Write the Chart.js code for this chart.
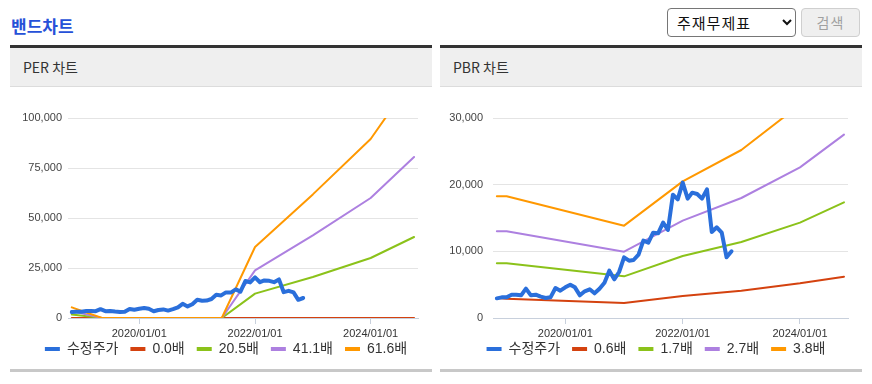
<!DOCTYPE html>
<html>
<head>
<meta charset="utf-8">
<script src="https://cdn.jsdelivr.net/npm/chart.js@4.4.1/dist/chart.umd.min.js"></script>
<style>
body { margin: 0; background: #fff; font-family: 'Noto Sans CJK KR', sans-serif; width: 872px; height: 384px; position: relative; overflow: hidden; }
.title { position: absolute; left: 11px; top: 14px; font-size: 17px; font-weight: bold; color: #2651d8; line-height: 24px; }
select { position: absolute; left: 667px; top: 8px; width: 129px; height: 29px; font-size: 15px; letter-spacing: 1px; font-family: 'Noto Sans CJK KR', sans-serif; border: 1px solid #767676; border-radius: 4px; background: #fff; color: #111; padding-left: 5px; }
.btn { position: absolute; left: 801px; top: 8px; width: 59px; height: 29px; box-sizing: border-box; background: #efefef; border: 1px solid #cfcfcf; border-radius: 4px; color: #a0a0a0; font-size: 14px; line-height: 27px; text-align: center; letter-spacing: 1px; }
.panel { position: absolute; top: 45px; width: 422px; border-top: 3px solid #333; border-bottom: 3px solid #c8c8c8; }
.head { height: 38px; background: #efefef; border-bottom: 1px solid #dcdcdc; font-size: 14px; line-height: 38px; padding-left: 13px; color: #333; }
.box { position: relative; height: 282px; }
</style>
</head>
<body>
<div class="title">밴드차트</div>
<select><option>주재무제표</option></select>
<div class="btn">검색</div>

<div class="panel" style="left:10px">
  <div class="head">PER 차트</div>
  <div class="box"><canvas id="perChart" width="422" height="282"></canvas></div>
</div>
<div class="panel" style="left:440px">
  <div class="head">PBR 차트</div>
  <div class="box"><canvas id="pbrChart" width="422" height="282"></canvas></div>
</div>

<script>
// monthly adjusted price (수정주가)
const priceMonths = [
  '2018-11','2018-12','2019-01','2019-02','2019-03','2019-04','2019-05','2019-06','2019-07','2019-08','2019-09','2019-10',
  '2019-11','2019-12','2020-01','2020-02','2020-03','2020-04','2020-05','2020-06','2020-07','2020-08','2020-09','2020-10',
  '2020-11','2020-12','2021-01','2021-02','2021-03','2021-04','2021-05','2021-06','2021-07','2021-08','2021-09','2021-10',
  '2021-11','2021-12','2022-01','2022-02','2022-03','2022-04','2022-05','2022-06','2022-07','2022-08','2022-09','2022-10','2022-11'
];
const adjPrice = [
  2950, 3100, 3100, 3500, 3500, 3400, 4400, 3400, 3500, 3200, 3000, 3100,
  4500, 4100, 4600, 5000, 4600, 3400, 4000, 4300, 3700, 4400, 5300, 7100,
  5800, 6900, 9100, 8600, 8700, 9500, 11600, 11300, 12800, 12700, 14300, 13200,
  18500, 17800, 20300, 17900, 18800, 18600, 17900, 19300, 12900, 13600, 12800, 9100, 10000
];

// PER bands
const perBandDates = ['2018-11-01','2019-05-10','2021-06-05','2022-01-01','2023-01-01','2024-01-01','2024-10-01'];
const perX0 = [0, 0, 0, 0, 0, 0, 0];
const perX205 = [1800, 0, 0, 12200, 20500, 30000, 40500];
const perX411 = [3500, 0, 0, 23800, 41300, 60000, 80500];
const perX616 = [5300, 0, 0, 35500, 61800, 89500, 120500];
const perLabels = ['수정주가', '0.0배', '20.5배', '41.1배', '61.6배'];
const perYTicks = [0, 25000, 50000, 75000, 100000];

// PBR bands
const pbrBandDates = ['2018-11-01','2019-01-01','2021-01-01','2022-01-01','2023-01-01','2024-01-01','2024-10-01'];
const pbrX06 = [3000, 2900, 2250, 3300, 4100, 5200, 6200];
const pbrX17 = [8200, 8200, 6250, 9300, 11400, 14300, 17350];
const pbrX27 = [13000, 13000, 9950, 14600, 18000, 22600, 27500];
const pbrX38 = [18250, 18250, 13850, 20500, 25200, 32000, 39000];
const pbrLabels = ['수정주가', '0.6배', '1.7배', '2.7배', '3.8배'];
const pbrYTicks = [0, 10000, 20000, 30000];

const xTickDates = ['2020-01-01', '2022-01-01', '2024-01-01'];
const xTickLabels = ['2020/01/01', '2022/01/01', '2024/01/01'];
const xRange = ['2018-10-08', '2024-10-26'];

const colors = ['#2a6fdb', '#d4420f', '#8bc21a', '#ad80e0', '#ff9800'];
const fontFamily = "'Liberation Sans', 'Noto Sans CJK KR', sans-serif";

function ms(s) {
  if (s.length === 7) s += '-01';
  return Date.parse(s + 'T00:00:00Z');
}

function series(dates, vals) {
  return dates.map((d, i) => ({ x: ms(d), y: vals[i] }));
}

// legend sits closer to the axis labels (and a bit to the right) than chart.js would put it
const legendShift = {
  id: 'legendShift',
  afterLayout(chart) {
    const l = chart.legend;
    l.top -= 12;
    l.bottom -= 12;
    l.left += 12;
    l.right += 12;
  }
};

function makeChart(id, labels, bandDates, bands, yTicks, yAxisWidth, yPad) {
  // draw order: price on top, then highest band ... lowest band
  const drawOrder = [0, 4, 3, 2, 1];
  const datasets = [series(priceMonths, adjPrice)].concat(bands.map(b => series(bandDates, b)))
    .map((data, i) => ({
      label: labels[i],
      data: data,
      borderColor: colors[i],
      backgroundColor: colors[i],
      borderWidth: i === 0 ? 4 : 2,
      pointRadius: 0,
      tension: 0,
      fill: false,
      borderJoinStyle: 'round',
      borderCapStyle: 'round',
      order: drawOrder[i]
    }));

  new Chart(document.getElementById(id), {
    type: 'line',
    data: { datasets },
    plugins: [legendShift],
    options: {
      responsive: false,
      animation: false,
      devicePixelRatio: 1,
      layout: { padding: { top: 31, right: 14, bottom: 0, left: 0 } },
      plugins: {
        tooltip: { enabled: false },
        legend: {
          position: 'bottom',
          maxHeight: 27,
          labels: {
            boxWidth: 15,
            boxHeight: 4,
            padding: 12,
            color: '#333',
            font: { size: 14, family: fontFamily },
            sort: (a, b) => a.datasetIndex - b.datasetIndex,
            generateLabels: chart => Chart.defaults.plugins.legend.labels.generateLabels(chart)
              .map(l => Object.assign(l, { lineWidth: 0, fillStyle: l.strokeStyle }))
          }
        }
      },
      scales: {
        x: {
          type: 'linear',
          min: ms(xRange[0]),
          max: ms(xRange[1]),
          bounds: 'data',
          afterBuildTicks: scale => { scale.ticks = xTickDates.map(d => ({ value: ms(d) })); },
          afterFit: scale => { scale.height = 24; },
          grid: { drawOnChartArea: false, drawTicks: true, tickLength: 6, color: '#c8d0dc' },
          border: { display: true, color: '#c8d0dc' },
          ticks: {
            autoSkip: false,
            maxRotation: 0,
            padding: 3,
            color: '#333',
            font: { size: 11, family: fontFamily },
            callback: (v, i) => xTickLabels[i]
          }
        },
        y: {
          min: yTicks[0],
          max: yTicks[yTicks.length - 1],
          afterBuildTicks: scale => { scale.ticks = yTicks.map(v => ({ value: v })); },
          afterFit: scale => { scale.width = yAxisWidth; },
          grid: { color: '#e4e4e4', drawTicks: false },
          border: { display: false },
          ticks: {
            padding: yPad,
            color: '#444',
            font: { size: 11, family: fontFamily },
            callback: v => v.toLocaleString('en-US')
          }
        }
      }
    }
  });
}

makeChart('perChart', perLabels, perBandDates, [perX0, perX205, perX411, perX616], perYTicks, 58, 6);
makeChart('pbrChart', pbrLabels, pbrBandDates, [pbrX06, pbrX17, pbrX27, pbrX38], pbrYTicks, 53, 10);
</script>
</body>
</html>
